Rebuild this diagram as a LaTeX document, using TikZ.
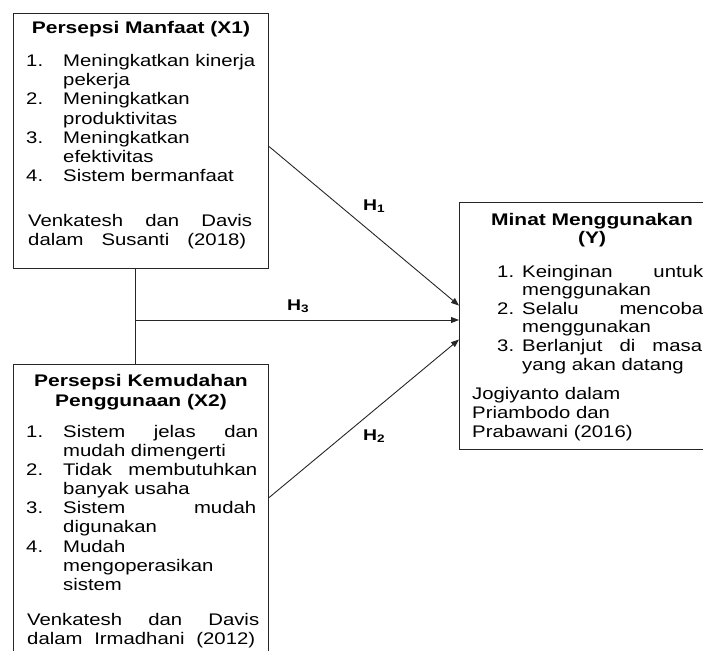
\documentclass[tikz,border=0pt]{standalone}
\usepackage{fontspec}
\setmainfont{Liberation Sans}[FakeStretch=1.21, BoldFeatures={FakeStretch=1.25}]
\usetikzlibrary{arrows.meta}
\newcommand\bodyfont{\fontsize{16.8}{19}\selectfont}
\begin{document}
\begin{tikzpicture}[x=1pt,y=1pt,
  box/.style={draw=black!85, line width=1.1pt, anchor=north west, inner sep=0pt},
  txt/.style={anchor=base west, inner sep=0pt, font=\bodyfont},
  ttl/.style={anchor=base, inner sep=0pt, font=\bodyfont\bfseries},
  hl/.style={anchor=base west, inner sep=0pt, font=\fontsize{15.5}{18}\selectfont\bfseries},
  arr/.style={draw=black!85, line width=0.9pt, -{Triangle[length=8pt,width=6pt]}},
  con/.style={draw=black!85, line width=0.9pt}]
\useasboundingbox (0,0) rectangle (703,-650);

% boxes
\node[box, minimum width=255pt, minimum height=255pt] (x1) at (13,-13) {};
\node[box, minimum width=255pt, minimum height=300pt] (x2) at (13,-364) {};
\node[box, minimum width=300pt, minimum height=247pt] (y) at (459,-202) {};

% connectors
\coordinate (j) at (135,-320);
\draw[con] ([xshift=-5.5pt]x1.south) -- ([xshift=-5.5pt]x2.north);
\draw[arr] (j) -- (j -| y.west);
\draw[arr] ([yshift=-5.5pt]x1.east) -- ([yshift=20.5pt]y.west);
\draw[arr] ([yshift=17pt]x2.east) -- ([yshift=-13.5pt]y.west);

% hypothesis labels
\node[hl] (h1) at (363,-210) {H\textsubscript{1}};
\node[hl] (h3) at (287,-310) {H\textsubscript{3}};
\node[hl] (h2) at (363,-440) {H\textsubscript{2}};

% X1 text
\node[ttl] (x1t) at (141,-34) {Persepsi Manfaat (X1)};
\node[txt] (x1n1) at (26,-66.7) {1.};
\node[txt] (x1a) at (63,-66.7) {Meningkatkan kinerja};
\node[txt] (x1b) at (63,-85.9) {pekerja};
\node[txt] (x1n2) at (26,-105) {2.};
\node[txt] (x1c) at (63,-105) {Meningkatkan};
\node[txt] (x1d) at (63,-124.2) {produktivitas};
\node[txt] (x1n3) at (26,-143.4) {3.};
\node[txt] (x1e) at (63,-143.4) {Meningkatkan};
\node[txt] (x1f) at (63,-162.6) {efektivitas};
\node[txt] (x1n4) at (26,-181.8) {4.};
\node[txt] (x1g) at (63,-181.8) {Sistem bermanfaat};
\node[txt] (x1h) at (28,-226.5) {\makebox[224pt][s]{Venkatesh dan Davis}};
\node[txt] (x1i) at (28,-245) {\makebox[218pt][s]{dalam Susanti (2018)}};

% X2 text
\node[ttl] (x2t1) at (141,-386.5) {Persepsi Kemudahan};
\node[ttl] (x2t2) at (141,-406.5) {Penggunaan (X2)};
\node[txt] (x2n1) at (26,-437) {1.};
\node[txt] (x2a) at (63,-437) {\makebox[195pt][s]{Sistem jelas dan}};
\node[txt] (x2b) at (63,-456) {mudah dimengerti};
\node[txt] (x2n2) at (26,-475) {2.};
\node[txt] (x2c) at (63,-475) {\makebox[194pt][s]{Tidak membutuhkan}};
\node[txt] (x2d) at (63,-494) {banyak usaha};
\node[txt] (x2n3) at (26,-513) {3.};
\node[txt] (x2e) at (63,-513) {\makebox[193pt][s]{Sistem mudah}};
\node[txt] (x2f) at (63,-532.5) {digunakan};
\node[txt] (x2n4) at (26,-552) {4.};
\node[txt] (x2g) at (63,-552) {Mudah};
\node[txt] (x2h) at (63,-571) {mengoperasikan};
\node[txt] (x2i) at (63,-590) {sistem};
\node[txt] (x2j) at (27,-625) {\makebox[232pt][s]{Venkatesh dan Davis}};
\node[txt] (x2k) at (27,-644) {\makebox[228pt][s]{dalam Irmadhani (2012)}};

% Y text
\node[ttl] (yt1) at (592,-225) {Minat Menggunakan};
\node[ttl] (yt2) at (592,-243.5) {(Y)};
\node[txt] (yn1) at (497,-277) {1.};
\node[txt] (ya) at (522,-277) {\makebox[181pt][s]{Keinginan untuk}};
\node[txt] (yb) at (522,-295.6) {menggunakan};
\node[txt] (yn2) at (497,-314.2) {2.};
\node[txt] (yc) at (522,-314.2) {\makebox[181pt][s]{Selalu mencoba}};
\node[txt] (yd) at (522,-332.8) {menggunakan};
\node[txt] (yn3) at (497,-351.4) {3.};
\node[txt] (ye) at (522,-351.4) {\makebox[180pt][s]{Berlanjut di masa}};
\node[txt] (yf) at (522,-370) {yang akan datang};
\node[txt] (yg) at (472,-399.3) {Jogiyanto dalam};
\node[txt] (yh) at (472,-418.3) {Priambodo dan};
\node[txt] (yi) at (472,-437) {Prabawani (2016)};
\end{tikzpicture}
\end{document}
